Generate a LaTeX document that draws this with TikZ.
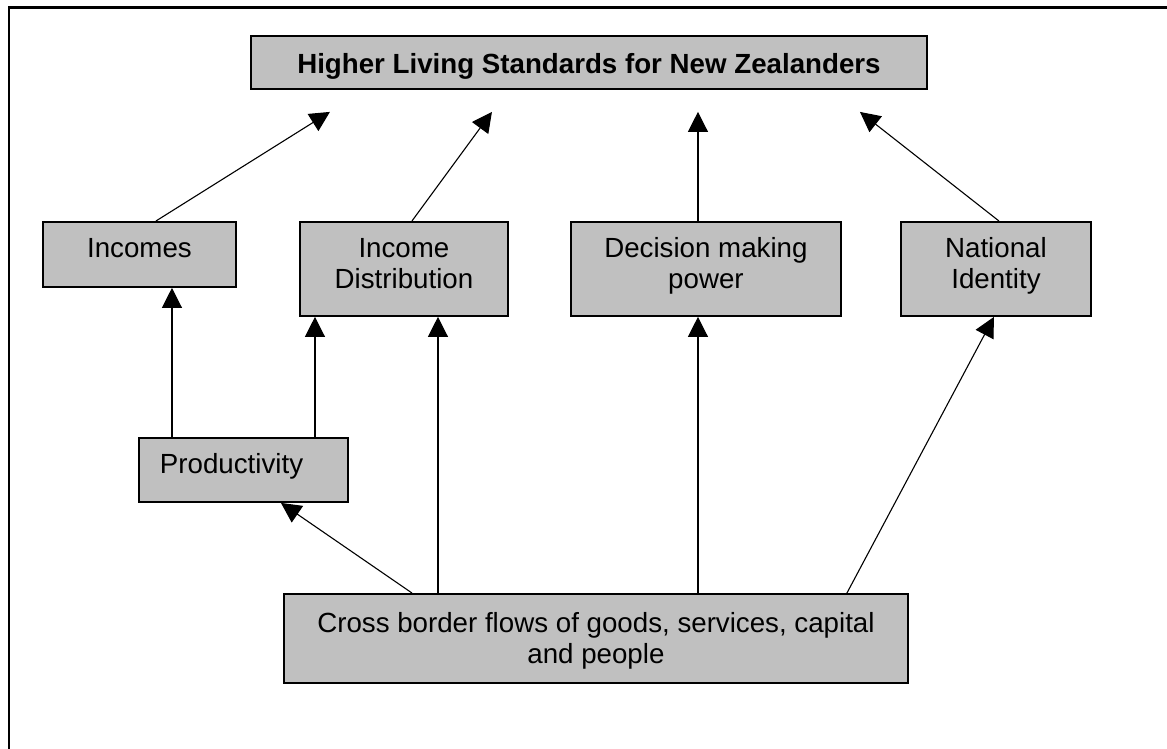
\documentclass[tikz,border=0pt]{standalone}
\usepackage{fontspec}
\setmainfont{Liberation Sans}
\usetikzlibrary{arrows.meta}
\definecolor{boxgray}{HTML}{C0C0C0}
\begin{document}
\begin{tikzpicture}[x=1pt,y=-1pt,
  box/.style={draw=black, line width=1.9pt, fill=boxgray, inner sep=0pt,
    anchor=north west, align=center, font=\fontsize{27.7}{31}\selectfont},
  conn/.style={line width=1.1pt, -{Triangle[length=20pt,width=20pt]}},
  frameline/.style={line width=2.3pt}]
\useasboundingbox (0,0) rectangle (1167,749);
\draw[frameline] (9,749) -- (9,7.5) -- (1167,7.5);

\node[box, minimum width=676pt, minimum height=53pt, text height=38pt, text depth=15pt,
  font=\fontsize{27.7}{31}\selectfont\bfseries] (top) at (250,35)
  {Higher Living Standards for New Zealanders};

\node[box, minimum width=193pt, minimum height=65pt, text height=36pt, text depth=29pt] (inc) at (42,221) {Incomes};
\node[box, minimum width=208pt, minimum height=94pt, text height=67pt, text depth=27pt] (id) at (299,221) {Income\\Distribution};
\node[box, minimum width=270pt, minimum height=94pt, text height=67pt, text depth=27pt] (dec) at (570,221) {Decision making\\power};
\node[box, minimum width=190pt, minimum height=94pt, text height=67pt, text depth=27pt] (ni) at (900,221) {National\\Identity};
\node[box, minimum height=64pt, text height=36pt, text depth=28pt, text width=167pt, inner xsep=21pt, align=left] (prod) at (138,437) {Productivity};
\node[box, minimum width=624pt, minimum height=89pt, text height=70pt, text depth=19pt] (cross) at (283,593)
  {Cross border flows of goods, services, capital\\and people};

\draw[conn] ([shift={(16.5,0)}]inc.north) -- ([shift={(-259,22)}]top.south);
\draw[conn] ([shift={(8,0)}]id.north) -- ([shift={(-97,22)}]top.south);
\draw[conn] ([shift={(-8,0)}]dec.north) -- ([shift={(109,22)}]top.south);
\draw[conn] ([shift={(3,0)}]ni.north) -- ([shift={(271,22)}]top.south);

\draw[conn] ([shift={(-71.5,0)}]prod.north) -- ([shift={(32.5,0)}]inc.south);
\draw[conn] ([shift={(71.5,0)}]prod.north) -- ([shift={(-89,0)}]id.south);
\draw[conn] ([shift={(-184,0)}]cross.north) -- ([shift={(37.5,0)}]prod.south);
\draw[conn] ([shift={(-158,0)}]cross.north) -- ([shift={(34,0)}]id.south);
\draw[conn] ([shift={(102,0)}]cross.north) -- ([shift={(-8,0)}]dec.south);
\draw[conn] ([shift={(251,0)}]cross.north) -- ([shift={(-2,0)}]ni.south);
\end{tikzpicture}
\end{document}
